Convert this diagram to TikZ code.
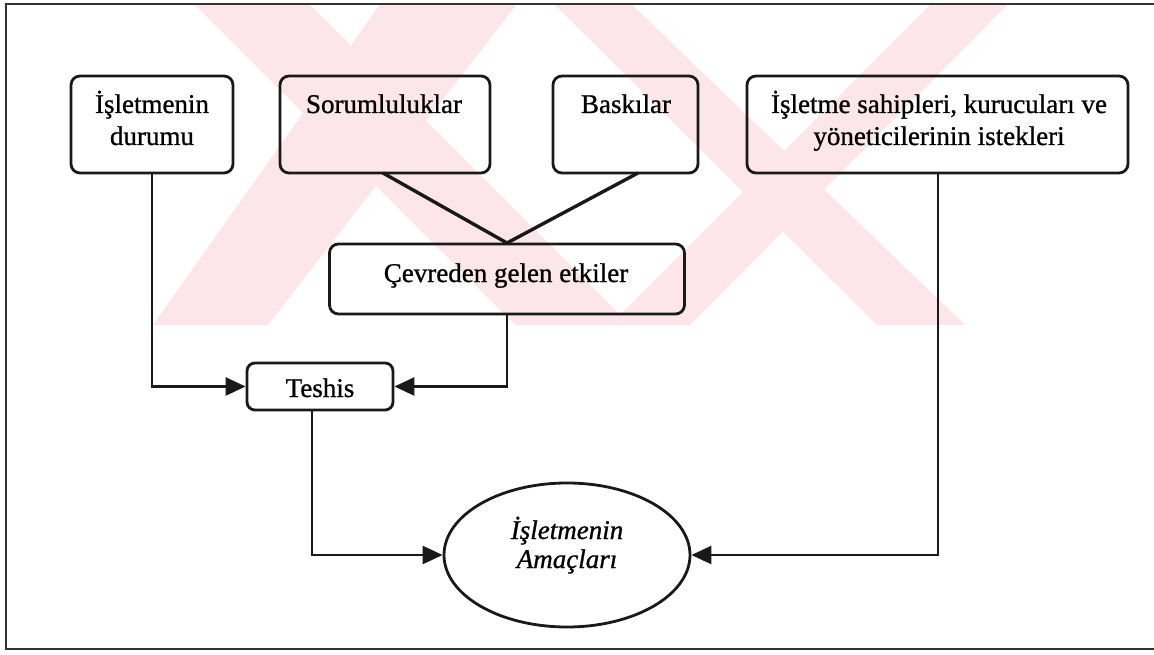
\documentclass[tikz,border=0pt]{standalone}
\usepackage{fontspec}
\setmainfont{Liberation Serif}
\newfontfamily\scanfont{Liberation Serif}[FakeBold=0.9]
\usetikzlibrary{arrows.meta,shapes.geometric,calc}
\definecolor{wmark}{RGB}{252,230,234}
\tikzset{
  boxstyle/.style={draw=black!90, rounded corners=9pt, line width=2.8pt, inner sep=0pt},
  txt/.style={inner sep=0pt, anchor=base, font=\scanfont\fontsize{27}{32}\selectfont},
  itxt/.style={inner sep=0pt, anchor=base, font=\scanfont\fontsize{27}{32}\selectfont\itshape},
  conn/.style={line width=2.5pt, draw=black!90},
  vline/.style={line width=3.4pt, draw=black!90},
  arr/.style={conn, -{Triangle[length=20pt,width=18pt]}},
  framestyle/.style={line width=2.2pt, draw=black!80},
  wm/.style={fill=wmark, draw=none}
}
\begin{document}
\begin{tikzpicture}[x=1pt,y=-1pt]
\useasboundingbox (0,0) rectangle (1154,655);
% watermark
\begin{scope}
\clip (6,4) rectangle (1154,325);
\fill[wm] (190,0) -- (305,0) -- (630,325) -- (515,325) -- cycle;
\fill[wm] (383,0) -- (520,0) -- (268,325) -- (153,325) -- cycle;
\fill[wm] (550,0) -- (627,0) -- (965,325) -- (877,325) -- cycle;
\fill[wm] (935,0) -- (1012,0) -- (690,325) -- (610,325) -- cycle;
\end{scope}
% frame
\draw[framestyle] (1160,4) -- (6,4) -- (6,649) -- (1160,649);
% top boxes
\node[boxstyle, minimum width=162pt, minimum height=97pt] (b1) at (152,124.5) {};
\node[boxstyle, minimum width=210pt, minimum height=97pt] (b2) at (385,124.5) {};
\node[boxstyle, minimum width=145pt, minimum height=97pt] (b3) at (625.5,124.5) {};
\node[boxstyle, minimum width=381pt, minimum height=97pt] (b4) at (937.5,124.5) {};
\node[boxstyle, minimum width=355pt, minimum height=70pt] (c) at (507,279) {};
\node[boxstyle, minimum width=146pt, minimum height=47pt, rounded corners=8pt] (t) at (320,386.5) {};
\node[draw=black!90, line width=2.8pt, ellipse, minimum width=246pt, minimum height=144pt, inner sep=0pt] (e) at (567,555) {};
% texts
\node[txt] (b1a) at (152,113) {İşletmenin};
\node[txt] (b1b) at (152,145) {durumu};
\node[txt] (b2a) at (384,113) {Sorumluluklar};
\node[txt] (b3a) at (626,113) {Baskılar};
\node[txt] (b4a) at (939,113) {İşletme sahipleri, kurucuları ve};
\node[txt] (b4b) at (939,145) {yöneticilerinin istekleri};
\node[txt] (ca) at (506,282) {Çevreden gelen etkiler};
\node[txt] (ta) at (320,397) {Teshis};
\node[itxt] (ea) at (567,539) {İşletmenin};
\node[itxt] (eb) at (567,568) {Amaçları};
% connectors
\coordinate (m) at (507,243);
\draw[vline] (383,173) -- (m);
\draw[vline] (638,173) -- (m);
\draw[arr] (b1.south) |- (t.west);
\draw[arr] (c.south) |- (t.east);
\draw[arr] ([xshift=-8pt]t.south) |- (e.west);
\draw[arr] ([xshift=0.5pt]b4.south) |- (e.east);
\end{tikzpicture}
\end{document}
